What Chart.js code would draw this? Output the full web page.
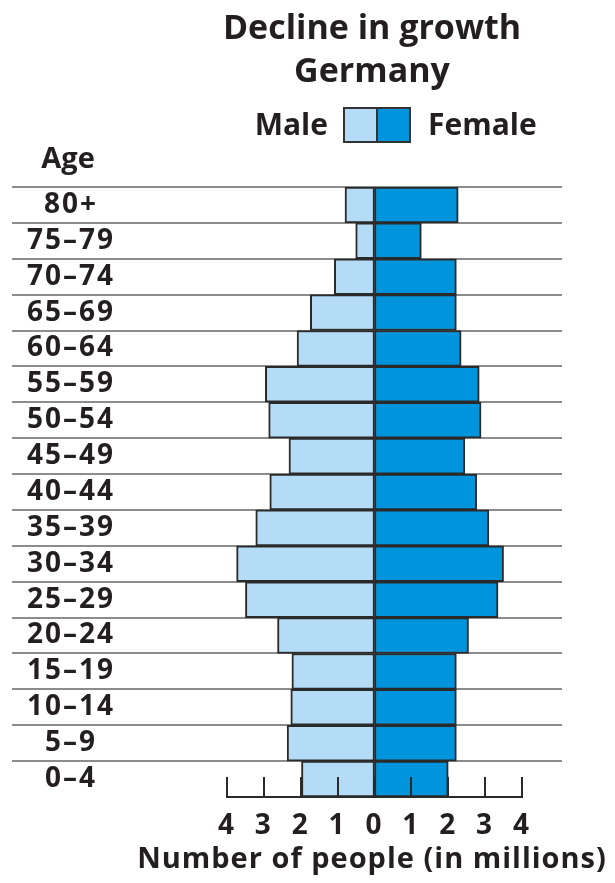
<!DOCTYPE html>
<html>
<head>
<meta charset="utf-8">
<script src="https://cdn.jsdelivr.net/npm/chart.js@4.4.1/dist/chart.umd.min.js"></script>
<style>
    body { margin: 0; background: #fff; font-family: "Open Sans", sans-serif; color: #231f20; }
    #wrap { position: relative; width: 615px; height: 883px; overflow: hidden; }
    #pyramid { position: absolute; left: 0; top: 0; }
    .txt { position: absolute; font-weight: 700; line-height: 1; white-space: nowrap; }
    .title { left: 172px; width: 400px; text-align: center; font-size: 34px; }
    .swatch { position: absolute; top: 107px; width: 31px; height: 32px; border: 2px solid #333; }
</style>
</head>
<body>
<div id="wrap">
    <canvas id="pyramid" width="615" height="883"></canvas>
    <div class="txt title" style="top:9px">Decline in growth</div>
    <div class="txt title" style="top:52px">Germany</div>
    <div class="txt" style="top:109px; right:287px; font-size:30px">Male</div>
    <div class="swatch" style="left:343px; background:#b5dcf7"></div>
    <div class="swatch" style="left:376px; background:#0094dd"></div>
    <div class="txt" style="top:109px; left:428px; font-size:30px">Female</div>
    <div class="txt" style="top:142px; left:18px; width:100px; text-align:center; font-size:29px">Age</div>
    <div class="txt" style="top:842px; left:122px; width:500px; text-align:center; font-size:29px; letter-spacing:1px">Number of people (in millions)</div>
</div>
<script>
// Age groups, top of the pyramid first
const ageGroups = ['80+', '75–79', '70–74', '65–69', '60–64', '55–59', '50–54', '45–49',
    '40–44', '35–39', '30–34', '25–29', '20–24', '15–19', '10–14', '5–9', '0–4'];

// Number of people, in millions
const maleValues = [0.80, 0.51, 1.09, 1.74, 2.10, 2.96, 2.87, 2.32, 2.84, 3.22, 3.74, 3.50, 2.63, 2.24, 2.27, 2.37, 1.98];
const femaleValues = [2.27, 1.27, 2.22, 2.22, 2.35, 2.84, 2.89, 2.45, 2.77, 3.10, 3.50, 3.35, 2.55, 2.22, 2.22, 2.22, 2.00];

// Tick values on the x axis (male side is negative)
const xTicks = [-4, -3, -2, -1, 0, 1, 2, 3, 4];

const inkColor = '#231f20';
const labelFont = { family: '"Open Sans", sans-serif', size: 28, weight: '700' };

// Slightly looser letters, closer to the original typeface
const looseText = {
    id: 'looseText',
    beforeInit(chart) { chart.ctx.letterSpacing = '2px'; },
    beforeDraw(chart) { chart.ctx.letterSpacing = '2px'; }
};

// Horizontal rules above every row, running out under the age labels
const rowLines = {
    id: 'rowLines',
    beforeDatasetsDraw(chart) {
        const ctx = chart.ctx;
        const yScale = chart.scales.y;
        const rowH = yScale.getPixelForValue(1) - yScale.getPixelForValue(0);
        ctx.save();
        ctx.strokeStyle = '#8c8c8c';
        ctx.lineWidth = 2;
        ageGroups.forEach((g, i) => {
            const y = Math.round(yScale.getPixelForValue(i) - rowH / 2);
            ctx.beginPath();
            ctx.moveTo(12, y);
            ctx.lineTo(562, y);
            ctx.stroke();
        });
        ctx.restore();
    }
};

// Tick marks pointing up from the x axis
const upTicks = {
    id: 'upTicks',
    afterDatasetsDraw(chart) {
        const ctx = chart.ctx;
        const xScale = chart.scales.x;
        const bottom = chart.chartArea.bottom;
        ctx.save();
        ctx.strokeStyle = '#2a2a2a';
        ctx.lineWidth = 2;
        xTicks.forEach(v => {
            const x = Math.round(xScale.getPixelForValue(v));
            ctx.beginPath();
            ctx.moveTo(x, bottom);
            ctx.lineTo(x, bottom - 20);
            ctx.stroke();
        });
        ctx.restore();
    }
};

new Chart(document.getElementById('pyramid'), {
    type: 'bar',
    data: {
        labels: ageGroups,
        datasets: [{
            label: 'Male',
            data: maleValues.map(v => -v),
            backgroundColor: '#b5dcf7',
            borderColor: '#2a2a2a',
            borderWidth: 2,
            borderSkipped: false,
            barPercentage: 1,
            categoryPercentage: 1
        }, {
            label: 'Female',
            data: femaleValues,
            backgroundColor: '#0094dd',
            borderColor: '#2a2a2a',
            borderWidth: 2,
            borderSkipped: false,
            barPercentage: 1,
            categoryPercentage: 1
        }]
    },
    options: {
        responsive: false,
        animation: false,
        indexAxis: 'y',
        layout: { padding: { left: 0, right: 93, top: 187, bottom: 0 } },
        plugins: {
            legend: { display: false },
            tooltip: { enabled: false }
        },
        scales: {
            x: {
                stacked: true,
                min: -4,
                max: 4,
                afterBuildTicks: scale => { scale.ticks = xTicks.map(v => ({ value: v })); },
                afterFit: scale => { scale.height = 86; },
                grid: { display: false, drawTicks: false },
                border: { display: true, color: '#2a2a2a', width: 2 },
                ticks: {
                    callback: v => Math.abs(v),
                    font: labelFont,
                    color: inkColor,
                    padding: 12,
                    maxRotation: 0,
                    autoSkip: false
                }
            },
            y: {
                stacked: true,
                afterFit: scale => {
                    scale.width = 227;
                    // the wide label padding must not eat into the plot height
                    scale.paddingTop = 0;
                    scale.paddingBottom = 0;
                },
                grid: { display: false, drawTicks: false },
                border: { display: false },
                ticks: {
                    font: labelFont,
                    color: inkColor,
                    crossAlign: 'center',
                    padding: 117,
                    autoSkip: false
                }
            }
        }
    },
    plugins: [looseText, rowLines, upTicks]
});
</script>
</body>
</html>
